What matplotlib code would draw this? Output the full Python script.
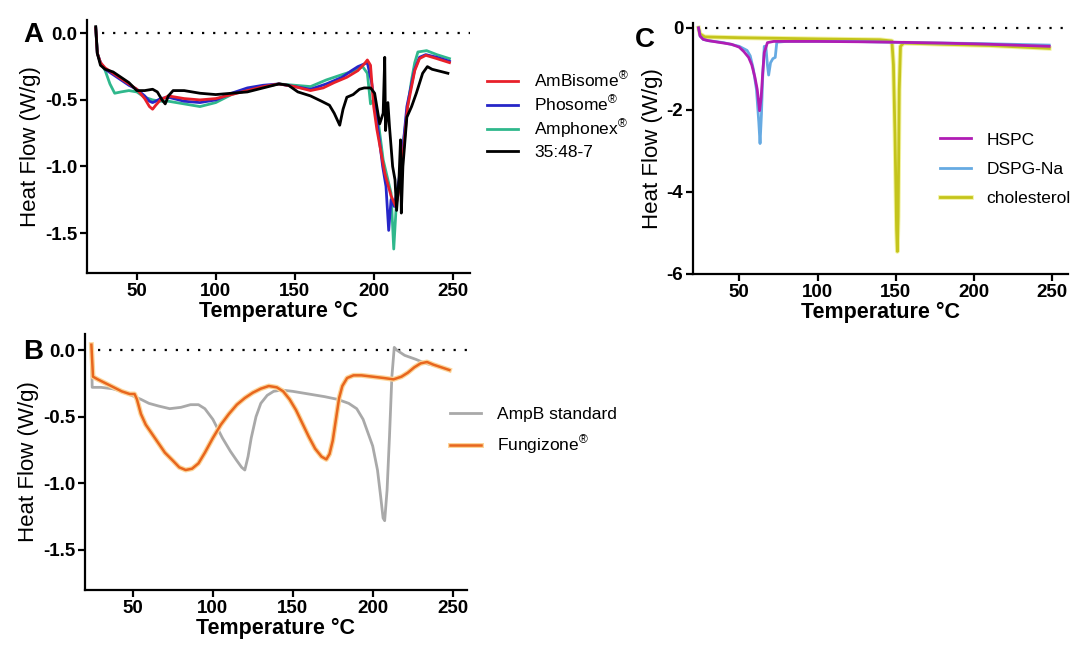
import matplotlib
matplotlib.use('Agg')
import matplotlib.pyplot as plt
import matplotlib.patheffects as pe

plt.rcParams['font.family'] = ['Liberation Sans', 'DejaVu Sans']
plt.rcParams['mathtext.fontset'] = 'custom'
plt.rcParams['mathtext.rm'] = 'Liberation Sans'
plt.rcParams['mathtext.bf'] = 'Liberation Sans:bold'

# --- Panel A: liposomal formulations ---
t_ambisome = [24, 25, 27, 30, 35, 40, 45, 50, 55, 58, 60, 62, 65, 70, 80, 90, 100, 110, 120, 130,
              140, 150, 160, 168, 175, 183, 190, 194, 196, 198, 200, 202, 204, 207, 211, 214, 217,
              219.5, 221.5, 224, 226, 229, 233, 240, 248]
hf_ambisome = [0.04, -0.15, -0.22, -0.26, -0.30, -0.34, -0.38, -0.42, -0.49, -0.55, -0.57, -0.54,
               -0.50, -0.47, -0.49, -0.50, -0.49, -0.46, -0.43, -0.40, -0.38, -0.40, -0.43, -0.41,
               -0.37, -0.33, -0.28, -0.23, -0.20, -0.24, -0.55, -0.72, -0.85, -1.05, -1.22, -1.30,
               -1.12, -0.80, -0.55, -0.40, -0.28, -0.19, -0.165, -0.19, -0.22]

t_phosome = [24, 25, 27, 30, 35, 40, 45, 50, 55, 58, 60, 62, 65, 70, 80, 90, 100, 110, 120, 130,
             140, 150, 160, 170, 180, 186, 190, 194, 196, 198.7, 201.8, 205.7, 207.8, 209.5, 211,
             213, 216, 219, 221, 224, 226, 229, 233, 240, 248]
hf_phosome = [0.04, -0.15, -0.22, -0.27, -0.31, -0.35, -0.39, -0.42, -0.47, -0.51, -0.52, -0.51,
              -0.49, -0.48, -0.51, -0.52, -0.50, -0.45, -0.41, -0.39, -0.38, -0.40, -0.42, -0.38,
              -0.33, -0.28, -0.25, -0.23, -0.22, -0.37, -0.63, -1.00, -1.15, -1.48, -1.25, -1.30,
              -1.10, -0.80, -0.55, -0.38, -0.27, -0.18, -0.16, -0.18, -0.21]

t_amphonex = [24, 25, 27, 30, 33, 36, 40, 45, 50, 55, 60, 65, 70, 80, 90, 100, 110, 120, 130, 140,
              150, 160, 170, 180, 188, 193, 196, 198, 200, 202, 206, 211, 212.7, 214.5, 217, 219,
              221.5, 224, 226, 228, 233.5, 240, 248]
hf_amphonex = [0.04, -0.15, -0.22, -0.28, -0.38, -0.45, -0.44, -0.43, -0.44, -0.48, -0.50, -0.51,
               -0.51, -0.53, -0.55, -0.52, -0.46, -0.42, -0.40, -0.38, -0.39, -0.40, -0.35, -0.31,
               -0.28, -0.25, -0.30, -0.53, -0.50, -0.58, -0.95, -1.20, -1.62, -1.25, -1.05, -0.80,
               -0.55, -0.35, -0.22, -0.14, -0.13, -0.16, -0.19]

t_354807 = [24, 25, 27, 30, 35, 40, 45, 50, 55, 60, 63, 66, 68, 70, 73, 80, 90, 100, 110, 120, 130,
            140, 146, 152, 160, 167, 172, 175, 178.5, 180.6, 183, 187, 191, 194, 198, 200.6, 203.8,
            206, 207, 207.5, 209, 210, 212, 213.5, 214.5, 216, 217, 217.5, 218.5, 221, 224, 227,
            231, 234, 237, 247]
hf_354807 = [0.05, -0.15, -0.24, -0.27, -0.29, -0.33, -0.37, -0.43, -0.43, -0.42, -0.44, -0.50,
             -0.53, -0.47, -0.43, -0.43, -0.45, -0.46, -0.45, -0.44, -0.41, -0.38, -0.39, -0.44,
             -0.47, -0.51, -0.54, -0.60, -0.69, -0.57, -0.48, -0.46, -0.42, -0.41, -0.41, -0.45,
             -0.68, -0.60, -0.18, -0.73, -0.52, -0.70, -1.00, -1.10, -1.33, -1.10, -0.80, -1.35,
             -1.00, -0.63, -0.55, -0.45, -0.30, -0.25, -0.27, -0.30]

# --- Panel B: AmpB standard and Fungizone ---
t_ampb = [24, 24.5, 30, 37, 43, 49, 55, 60, 66, 73, 80, 86, 91, 95, 100, 106, 111, 115, 118, 120,
          122, 124, 127, 130, 134, 138, 143, 150, 160, 170, 178, 185, 190, 194, 197, 200, 203, 205,
          206.5, 207.5, 209, 210.5, 212, 213.5, 215, 220, 227, 233, 240, 248]
hf_ampb = [0.04, -0.28, -0.28, -0.29, -0.31, -0.34, -0.37, -0.40, -0.42, -0.44, -0.43, -0.41,
           -0.41, -0.44, -0.52, -0.66, -0.76, -0.83, -0.88, -0.90, -0.80, -0.66, -0.50, -0.40,
           -0.34, -0.31, -0.30, -0.31, -0.33, -0.35, -0.37, -0.40, -0.44, -0.52, -0.62, -0.72,
           -0.90, -1.10, -1.26, -1.28, -1.05, -0.65, -0.20, 0.02, 0.00, -0.04, -0.07, -0.10,
           -0.12, -0.15]

t_fungizone = [24, 25, 28, 33, 38, 43, 48, 51, 52.5, 55, 58, 62, 66, 70, 75, 79, 83, 87, 91, 95,
               100, 105, 110, 115, 120, 125, 130, 135, 140, 144, 148, 152, 156, 160, 164, 168, 171,
               173, 175, 177, 179, 181, 184, 188, 193, 200, 207, 213, 218, 222, 226, 230, 234, 238,
               243, 248]
hf_fungizone = [0.04, -0.20, -0.22, -0.25, -0.28, -0.31, -0.33, -0.33, -0.37, -0.48, -0.56, -0.63,
                -0.70, -0.77, -0.83, -0.88, -0.90, -0.89, -0.85, -0.77, -0.66, -0.56, -0.48, -0.41,
                -0.36, -0.32, -0.29, -0.27, -0.28, -0.31, -0.37, -0.45, -0.55, -0.65, -0.74, -0.80,
                -0.82, -0.78, -0.68, -0.52, -0.36, -0.27, -0.21, -0.19, -0.19, -0.20, -0.21, -0.22,
                -0.20, -0.17, -0.13, -0.10, -0.09, -0.11, -0.13, -0.15]

# --- Panel C: lipid components ---
t_hspc = [24, 25, 27, 30, 35, 40, 45, 50, 53, 56, 58, 60, 61.5, 63, 64, 65, 66, 68, 72, 80, 100,
          130, 150, 180, 210, 248]
hf_hspc = [0, -0.20, -0.28, -0.31, -0.34, -0.37, -0.40, -0.47, -0.58, -0.72, -0.90, -1.20, -1.50,
           -2.02, -1.70, -1.10, -0.60, -0.36, -0.33, -0.33, -0.33, -0.34, -0.35, -0.37, -0.40, -0.45]

t_dspg = [24, 25, 27, 30, 40, 50, 55, 57, 59, 61, 62.5, 63.3, 64.2, 65, 66, 67, 68, 68.8, 70, 71.5,
          73, 74, 80, 120, 160, 200, 248]
hf_dspg = [0, -0.20, -0.28, -0.31, -0.36, -0.45, -0.55, -0.68, -1.00, -1.50, -2.30, -2.82, -2.10,
           -1.20, -0.45, -0.45, -0.90, -1.15, -0.85, -0.75, -0.72, -0.35, -0.33, -0.33, -0.36,
           -0.38, -0.42]

t_chol = [24, 25, 28, 50, 100, 140, 147.5, 148.5, 149.5, 150.5, 151, 151.5, 152.2, 153, 155, 180,
          210, 248]
hf_chol = [0, -0.15, -0.22, -0.24, -0.27, -0.29, -0.32, -0.90, -2.60, -4.90, -5.45, -4.60, -1.50,
           -0.45, -0.37, -0.40, -0.43, -0.50]

temp_ticks = [50, 100, 150, 200, 250]
ticks_ab = [0.0, -0.5, -1.0, -1.5]
ticks_c = [0, -2, -4, -6]

R = r'$^{\mathrm{®}}$'

fig = plt.figure(figsize=(10.8, 6.52), dpi=100)


def estilo(ax, xlim, ylim, yticks, yfmt):
    ax.set_xlim(*xlim)
    ax.set_ylim(*ylim)
    ax.set_xticks(temp_ticks)
    ax.set_yticks(yticks)
    ax.set_yticklabels([yfmt.format(v) for v in yticks])
    for s in ['top', 'right']:
        ax.spines[s].set_visible(False)
    for s in ['left', 'bottom']:
        ax.spines[s].set_linewidth(1.6)
    ax.tick_params(width=1.6, length=5, labelsize=13.5, pad=2)
    for lab in ax.get_xticklabels() + ax.get_yticklabels():
        lab.set_fontweight('bold')
    ax.axhline(0, xmin=(28 - xlim[0]) / (xlim[1] - xlim[0]), color='black',
               linestyle=(0, (1, 4)), linewidth=1.6, zorder=1)
    ax.set_xlabel('Temperature °C', fontsize=15.5, fontweight='bold', labelpad=1)
    ax.set_ylabel('Heat Flow (W/g)', fontsize=16, labelpad=3)


# Panel A
axA = fig.add_axes([0.0806, 0.5813, 0.3546, 0.388])
axA.plot(t_ambisome, hf_ambisome, color='#e8202a', lw=2, label='AmBisome' + R, zorder=4)
axA.plot(t_phosome, hf_phosome, color='#2626c8', lw=2, label='Phosome' + R, zorder=3)
axA.plot(t_amphonex, hf_amphonex, color='#2fb88c', lw=2, label='Amphonex' + R, zorder=2)
axA.plot(t_354807, hf_354807, color='black', lw=2, label='35:48-7', zorder=5)
estilo(axA, (18.5, 261), (-1.8, 0.1), ticks_ab, '{:.1f}')
axA.legend(loc='upper left', bbox_to_anchor=(0.451, 0.893), bbox_transform=fig.transFigure,
           frameon=False, fontsize=12.5, borderpad=0, borderaxespad=0, handlelength=1.8,
           handletextpad=0.9, labelspacing=0.2)

# Panel B
axB = fig.add_axes([0.0787, 0.0951, 0.3537, 0.3926])
axB.plot(t_ampb, hf_ampb, color='#a9a9a9', lw=2, label='AmpB standard', zorder=3)
axB.plot(t_fungizone, hf_fungizone, color='#e8661e', lw=1.8, label='Fungizone' + R, zorder=4,
         path_effects=[pe.Stroke(linewidth=3.6, foreground='#fcd59a'), pe.Normal()])
estilo(axB, (20, 259), (-1.8, 0.12), ticks_ab, '{:.1f}')
axB.legend(loc='upper left', bbox_to_anchor=(0.4167, 0.376), bbox_transform=fig.transFigure,
           frameon=False, fontsize=12.5, borderpad=0, borderaxespad=0, handlelength=1.8,
           handletextpad=0.9, labelspacing=0.65)

# Panel C
axC = fig.add_axes([0.6417, 0.5798, 0.3472, 0.385])
axC.plot(t_hspc, hf_hspc, color='#b01cb4', lw=2, label='HSPC', zorder=5)
axC.plot(t_dspg, hf_dspg, color='#66aae2', lw=2, label='DSPG-Na', zorder=4)
axC.plot(t_chol, hf_chol, color='#c4c41c', lw=2, label='cholesterol', zorder=3,
         path_effects=[pe.Stroke(linewidth=3.4, foreground='#f2f2a0'), pe.Normal()])
estilo(axC, (20.5, 260), (-6, 0.12), ticks_c, '{:.0f}')
axC.legend(loc='upper left', bbox_to_anchor=(0.870, 0.797), bbox_transform=fig.transFigure,
           frameon=False, fontsize=12.5, borderpad=0, borderaxespad=0, handlelength=1.8,
           handletextpad=0.9, labelspacing=0.82)

# letras de panel
fig.text(0.031, 0.946, 'A', fontsize=20, fontweight='bold', ha='center', va='center')
fig.text(0.031, 0.460, 'B', fontsize=20, fontweight='bold', ha='center', va='center')
fig.text(0.597, 0.939, 'C', fontsize=20, fontweight='bold', ha='center', va='center')

plt.savefig('out.png', dpi=100)
